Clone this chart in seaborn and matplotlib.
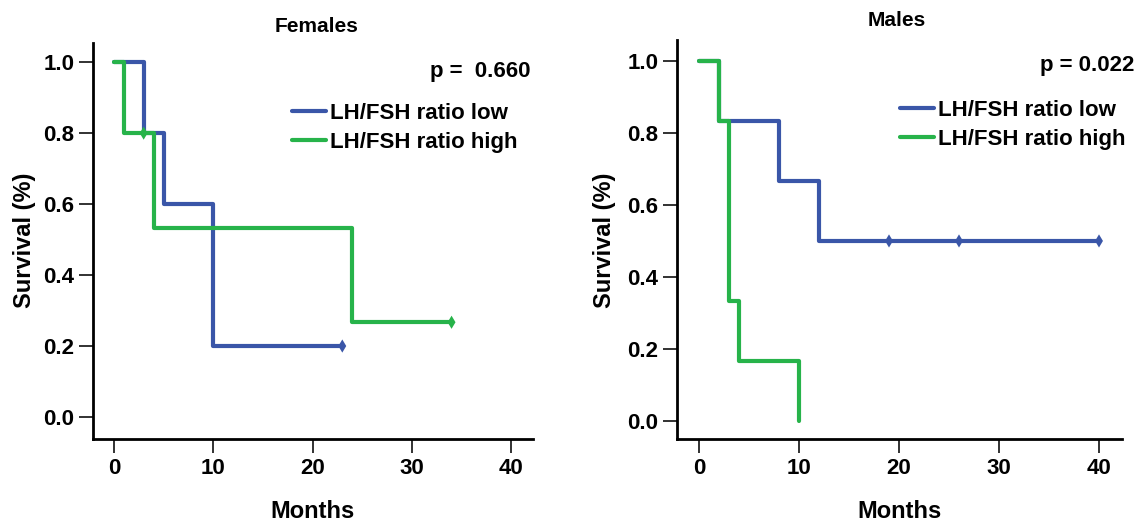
import numpy as np
import pandas as pd
import matplotlib
matplotlib.use("Agg")
import matplotlib.pyplot as plt
import seaborn as sns

# ---- data ----
groups = ["LH/FSH ratio low", "LH/FSH ratio high"]

fem_low_t = [0, 3, 5, 10, 23]
fem_low_s = [1.0, 0.8, 0.6, 0.2, 0.2]
fem_low_cens_t = [23]
fem_low_cens_s = [0.2]

fem_high_t = [0, 1, 4, 24, 34]
fem_high_s = [1.0, 0.8, 0.533, 0.267, 0.267]
fem_high_cens_t = [3, 34]
fem_high_cens_s = [0.8, 0.267]

male_low_t = [0, 2, 8, 12, 40]
male_low_s = [1.0, 0.833, 0.667, 0.5, 0.5]
male_low_cens_t = [19, 26, 40]
male_low_cens_s = [0.5, 0.5, 0.5]

male_high_t = [0, 2, 3, 4, 10]
male_high_s = [1.0, 0.833, 0.333, 0.167, 0.0]
male_high_cens_t = []
male_high_cens_s = []

titles = ["Females", "Males"]
p_texts = ["p =  0.660", "p = 0.022"]
x_ticks = [0, 10, 20, 30, 40]
y_ticks = [0.0, 0.2, 0.4, 0.6, 0.8, 1.0]

colors = {"LH/FSH ratio low": "#3A56A8", "LH/FSH ratio high": "#27B34A"}

sns.set_theme(style="ticks")
plt.rcParams['font.family'] = ['Liberation Sans', 'DejaVu Sans']
plt.rcParams['font.weight'] = 'bold'
plt.rcParams['text.color'] = 'black'
plt.rcParams['xtick.color'] = 'black'
plt.rcParams['ytick.color'] = 'black'
plt.rcParams['xtick.labelcolor'] = 'black'
plt.rcParams['ytick.labelcolor'] = 'black'

W, H = 1148, 525
fig = plt.figure(figsize=(W / 100, H / 100), dpi=100)

def fx(px):
    return px / W

def fy(py):
    return 1 - py / H

ax_specs = [
    dict(rect=[fx(93), fy(439), (533 - 93) / W, (439 - 43) / H], xlim=(-2.1, 42.2), ylim=(-0.062, 1.054)),
    dict(rect=[fx(677), fy(439), (1122 - 677) / W, (439 - 40) / H], xlim=(-2.2, 42.3), ylim=(-0.05, 1.058)),
]

panels = [
    (fem_low_t, fem_low_s, fem_low_cens_t, fem_low_cens_s,
     fem_high_t, fem_high_s, fem_high_cens_t, fem_high_cens_s),
    (male_low_t, male_low_s, male_low_cens_t, male_low_cens_s,
     male_high_t, male_high_s, male_high_cens_t, male_high_cens_s),
]

title_pos = [(317, 27), (897, 20)]
p_pos = [(531, 72), (1134, 65)]
leg_pos = [(292, 103), (900, 100)]
ylab_x = [25, 605]

for i, (spec, pdata) in enumerate(zip(ax_specs, panels)):
    ax = fig.add_axes(spec["rect"])
    lt, ls, lct, lcs, ht, hs, hct, hcs = pdata
    curves = pd.DataFrame({
        "Months": list(lt) + list(ht),
        "Survival": list(ls) + list(hs),
        "Group": [groups[0]] * len(lt) + [groups[1]] * len(ht),
    })
    cens = pd.DataFrame({
        "Months": list(lct) + list(hct),
        "Survival": list(lcs) + list(hcs),
        "Group": [groups[0]] * len(lct) + [groups[1]] * len(hct),
    })
    sns.lineplot(data=curves, x="Months", y="Survival", hue="Group",
                 hue_order=groups, palette=colors, estimator=None, sort=False,
                 drawstyle="steps-post", linewidth=3.0, ax=ax, legend=True)
    if len(cens):
        sns.scatterplot(data=cens, x="Months", y="Survival", hue="Group",
                        hue_order=groups, palette=colors, marker="d", s=45,
                        linewidth=0, ax=ax, legend=False, zorder=5)
    ax.set_xlim(*spec["xlim"])
    ax.set_ylim(*spec["ylim"])
    ax.set_xticks(x_ticks)
    ax.set_yticks(y_ticks)
    ax.set_yticklabels([f"{v:.1f}" for v in y_ticks])
    ax.tick_params(axis="both", labelsize=16, width=1.3, length=10, color="#222222")
    for lab in ax.get_xticklabels() + ax.get_yticklabels():
        lab.set_fontweight("bold")
    sns.despine(ax=ax)
    for s in ["left", "bottom"]:
        ax.spines[s].set_linewidth(2.0)
        ax.spines[s].set_color("black")
    ax.set_xlabel("")
    ax.set_ylabel("")
    # legend
    handles, labels = ax.get_legend_handles_labels()
    leg = ax.legend(handles, labels, loc="upper left",
                    bbox_to_anchor=(fx(leg_pos[i][0]), fy(leg_pos[i][1])),
                    bbox_transform=fig.transFigure, frameon=False,
                    prop={"size": 16, "weight": "bold"}, handlelength=1.55,
                    handletextpad=0.15, labelspacing=0.35, borderpad=0,
                    borderaxespad=0)
    for line in leg.get_lines():
        line.set_linewidth(3.0)
    fig.text(fx(title_pos[i][0]), fy(title_pos[i][1]), titles[i],
             ha="center", va="center", fontsize=15, fontweight="bold")
    fig.text(fx(p_pos[i][0]), fy(p_pos[i][1]), p_texts[i],
             ha="right", va="center", fontsize=16, fontweight="bold")
    fig.text(fx((spec["rect"][0] * W + (spec["rect"][0] + spec["rect"][2]) * W) / 2), fy(511),
             "Months", ha="center", va="center", fontsize=17, fontweight="bold")
    fig.text(fx(ylab_x[i]), fy(240), "Survival (%)", ha="center", va="center",
             rotation=90, fontsize=17, fontweight="bold")

fig.savefig("out.png", dpi=100, facecolor="white")
